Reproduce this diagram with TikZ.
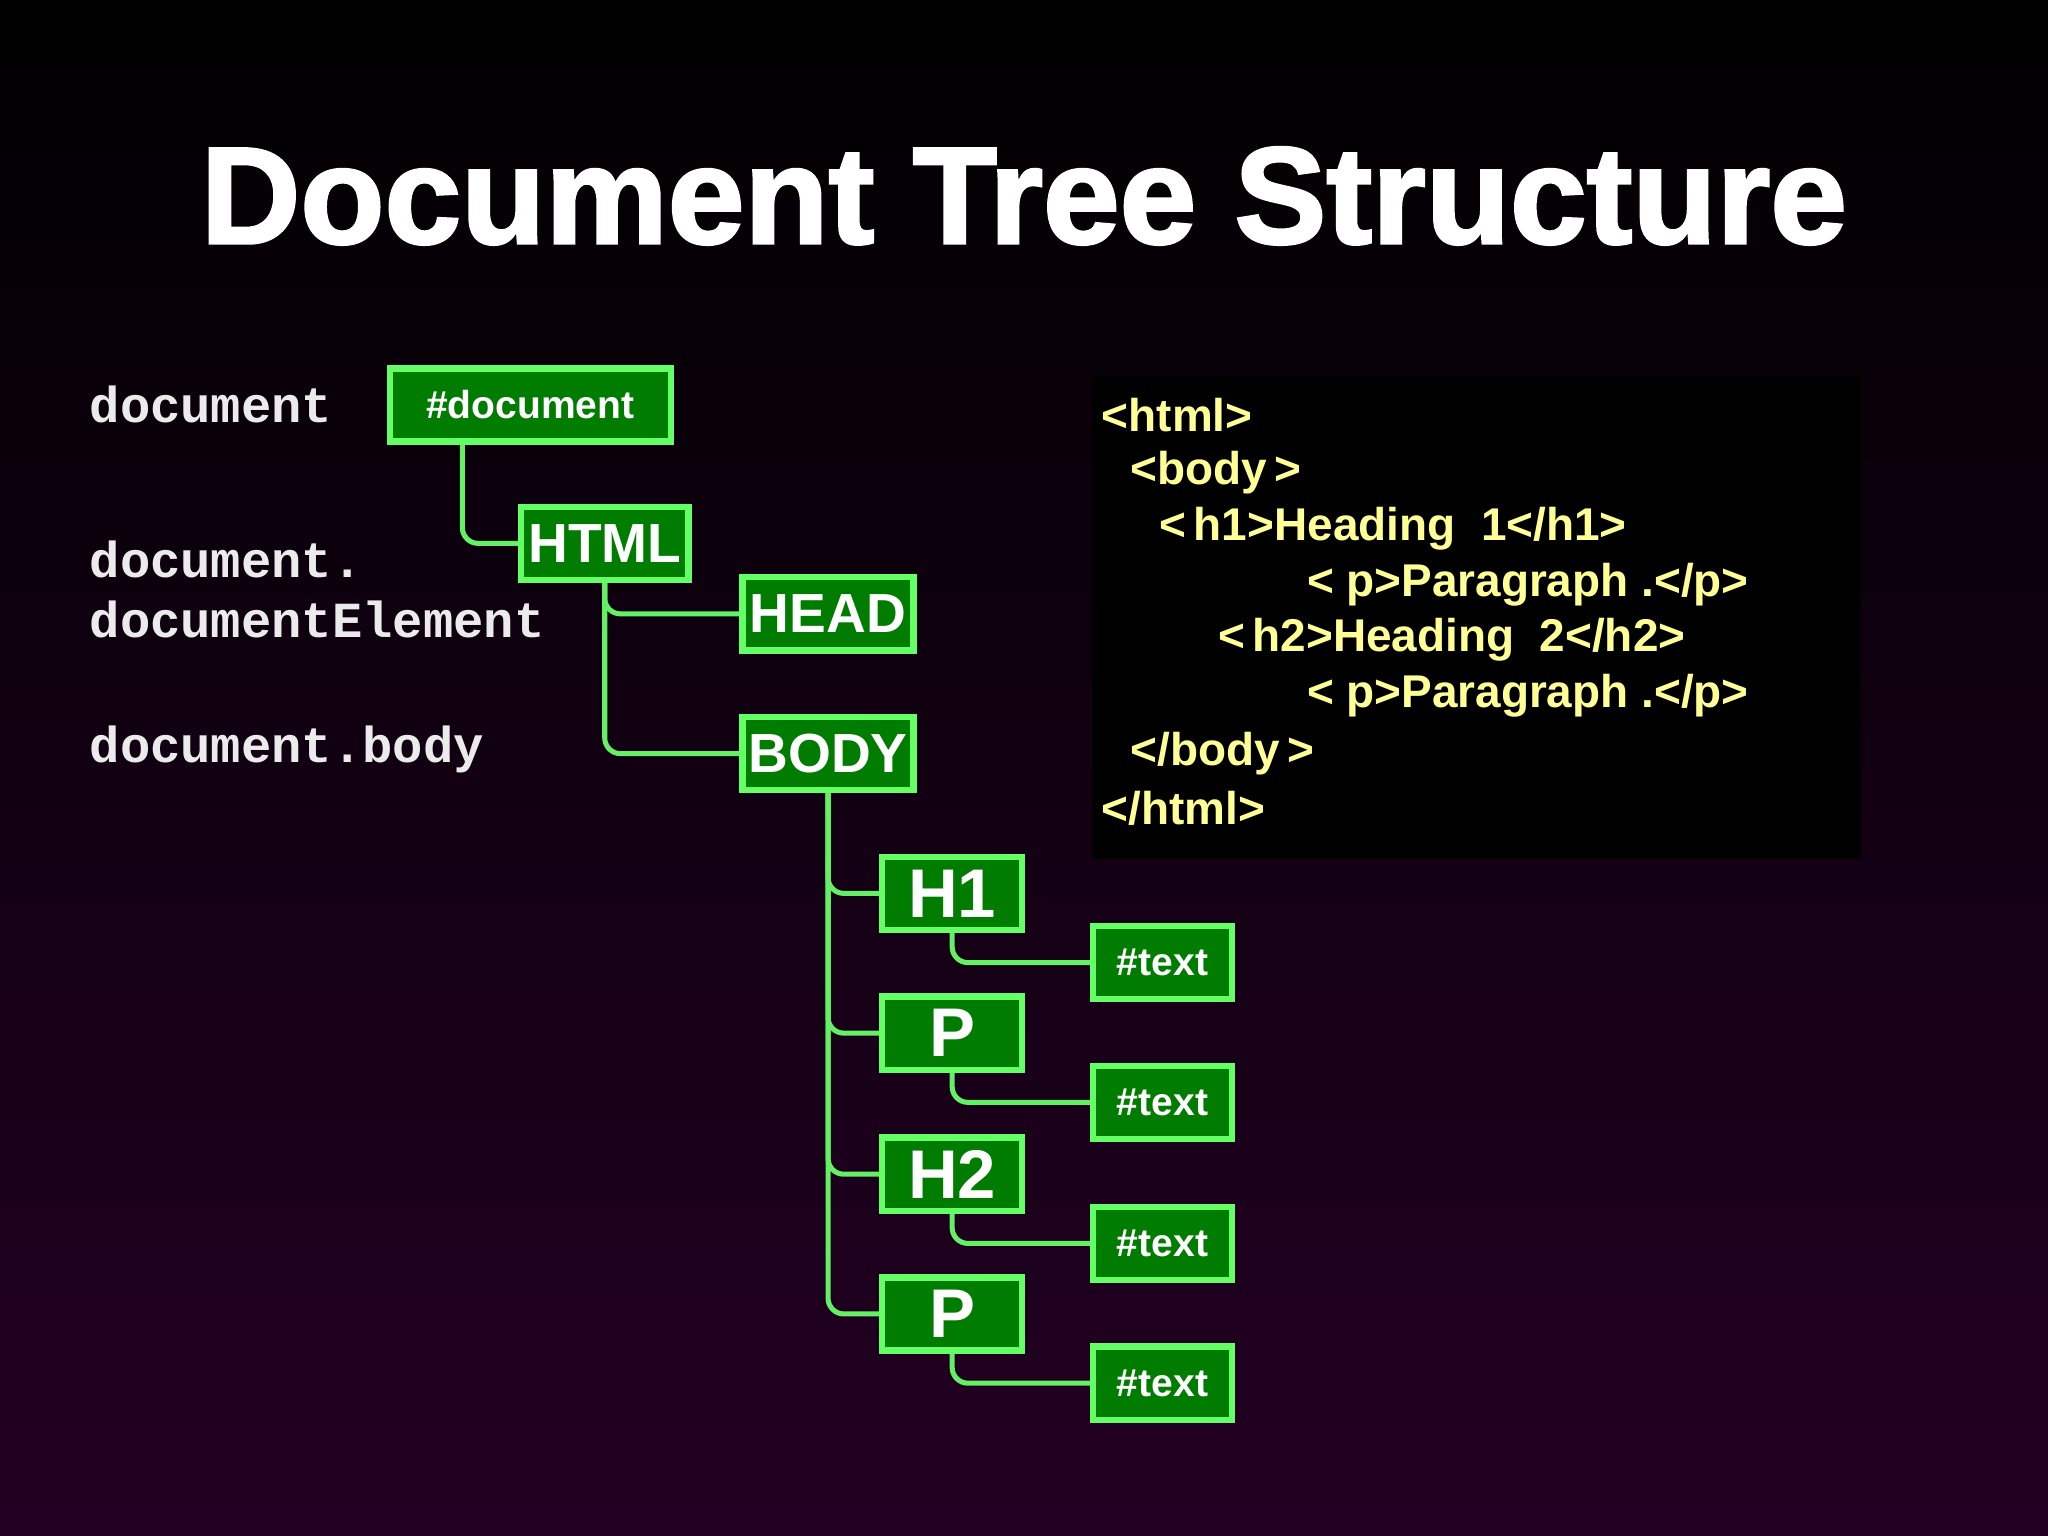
\documentclass[tikz,border=0pt]{standalone}
\usepackage{fontspec}
\setmainfont{Liberation Sans}
\newfontfamily\monof{Liberation Mono}
\begin{document}
\begin{tikzpicture}[x=0.01cm,y=-0.01cm,
  box/.style={draw={rgb,255:red,100;green,255;blue,100},line width=1.4pt,fill={rgb,255:red,0;green,125;blue,0},
    text=white,font=\bfseries,inner sep=0pt,minimum height=0.56cm},
  conn/.style={draw={rgb,255:red,100;green,240;blue,100},line width=1.1pt,rounded corners=0.12cm},
  lbl/.style={text={rgb,255:red,235;green,235;blue,235},font=\monof\bfseries\fontsize{11}{13}\selectfont,anchor=west,inner sep=0pt},
  code/.style={text={rgb,255:red,255;green,255;blue,150},font=\bfseries\fontsize{10}{12}\selectfont,anchor=west,inner sep=0pt}]
\shade[top color=black,bottom color={rgb,255:red,35;green,0;blue,35}] (0,0) rectangle (1568,1176);
\useasboundingbox (0,0) rectangle (1568,1176);
\node[text=white,font=\bfseries\fontsize{30}{34}\selectfont] (title) at (784,150) {\addfontfeature{FakeBold=2}Document Tree Structure};
% left labels
\node[lbl] (l1) at (68,310) {document};
\node[lbl] (l2) at (68,428) {document.};
\node[lbl] (l3) at (68,474) {documentElement};
\node[lbl] (l4) at (68,574) {document.body};
% code box
\fill[black] (836,287) rectangle (1425,658);
\node[code] (c1) at (843,318) {<html>};
\node[code] (c2) at (865,362) {<body\,>};
\node[code] (c3) at (887,405) {<\,h1>Heading\ \ 1</h1>};
\node[code] (c4) at (1000,448) {<\ p>Paragraph .</p>};
\node[code] (c5) at (932,490) {<\,h2>Heading\ \ 2</h2>};
\node[code] (c6) at (1000,533) {<\ p>Paragraph .</p>};
\node[code] (c7) at (865,577) {</body\,>};
\node[code] (c8) at (843,619) {</html>};
% tree nodes
\node[box,minimum width=2.15cm,font=\bfseries\fontsize{8.5}{10}\selectfont] (doc) at (406,310) {\#document};
\node[box,minimum width=1.28cm,font=\bfseries\fontsize{12}{14}\selectfont] (html) at (463,416) {HTML};
\node[box,minimum width=1.31cm,font=\bfseries\fontsize{12}{14}\selectfont] (head) at (634,470) {HEAD};
\node[box,minimum width=1.31cm,font=\bfseries\fontsize{12}{14}\selectfont] (body) at (634,577) {BODY};
\foreach \n/\t/\y in {h1/H1/684,p1/P/791,h2/H2/899,p2/P/1006}{
  \node[box,minimum width=1.07cm,font=\bfseries\fontsize{15}{17}\selectfont] (\n) at (729,\y) {\t};
  \node[box,minimum width=1.06cm,font=\bfseries\fontsize{8.5}{10}\selectfont] (t\n) at (890,\y+53) {\#text};
  \draw[conn] (\n.south) -- (729,\y+53) -- (t\n.west);
  \draw[conn] (body.south -| 634,0) -- (634,\y) -- (\n.west);
}
\draw[conn] (doc.south -| 354,0) -- (354,416) -- (html.west);
\draw[conn] (html.south) -- (463,470) -- (head.west);
\draw[conn] (html.south) -- (463,577) -- (body.west);
\end{tikzpicture}
\end{document}
